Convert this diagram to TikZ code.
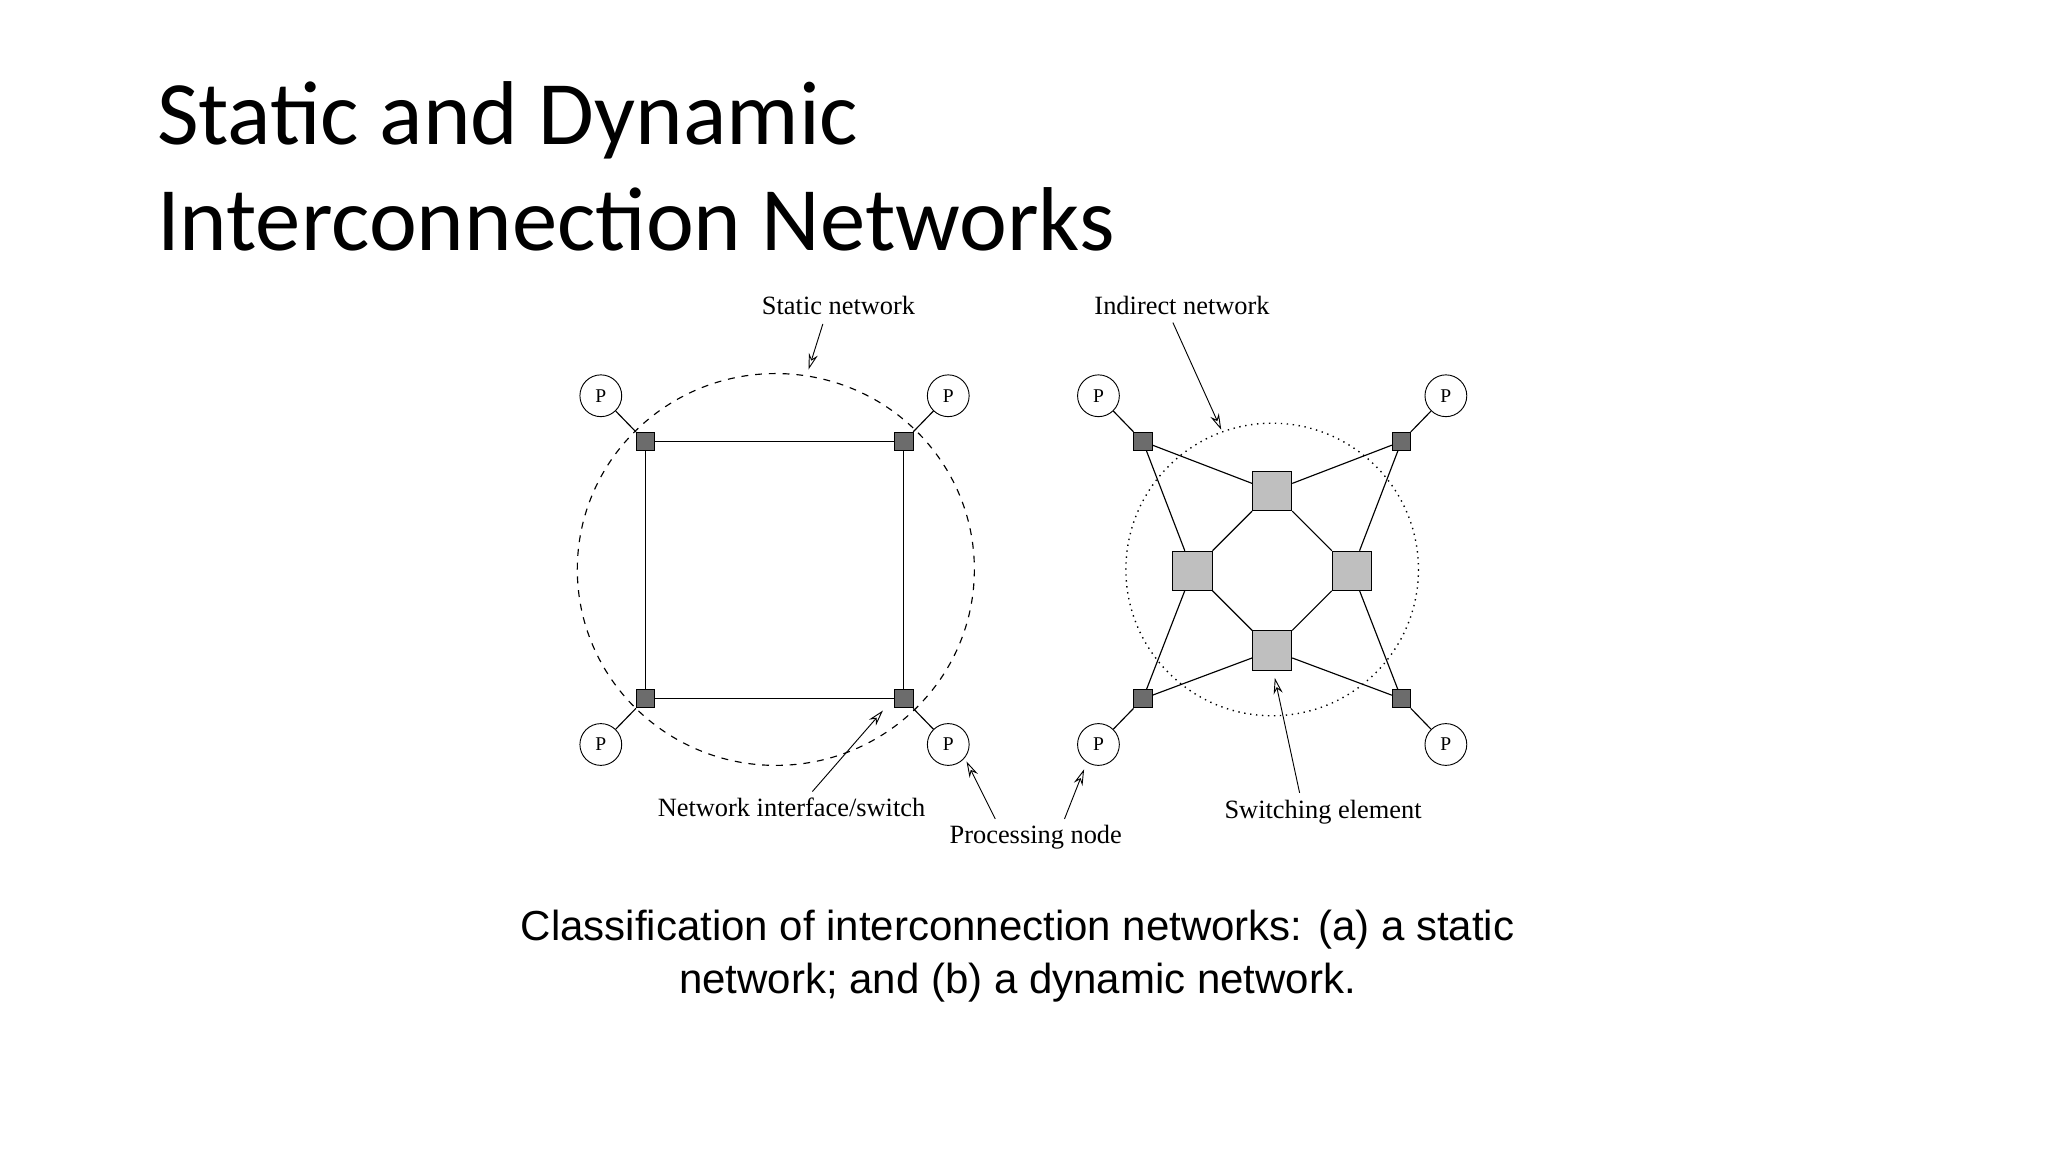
\documentclass[tikz,border=0pt]{standalone}
\usepackage{fontspec}
\setmainfont{Liberation Serif}
\newfontfamily\titlefont{Carlito}
\newfontfamily\capfont{Liberation Sans}
\usetikzlibrary{arrows.meta}
\begin{document}
\begin{tikzpicture}[x=0.02cm,y=-0.02cm,
  proc/.style={circle,draw,fill=white,minimum size=0.64cm,inner sep=0pt,font=\fontsize{8.5}{9}\selectfont},
  ni/.style={draw,fill=gray!85!black,minimum size=0.28cm,inner sep=0pt},
  sw/.style={draw,fill=gray!50,minimum size=0.6cm,inner sep=0pt},
  lbl/.style={font=\fontsize{11.5}{13}\selectfont},
  ptr/.style={-{Stealth[open,length=7pt,width=4pt]},line width=0.4pt},
  link/.style={line width=0.5pt}]
\useasboundingbox (0,0) rectangle (1568,882);
\node[anchor=west,font=\titlefont\fontsize{39.5}{46}\selectfont,align=left] (t1) at (114,92) {Static and Dynamic};
\node[anchor=west,font=\titlefont\fontsize{39.5}{46}\selectfont,align=left] (t2) at (114,168) {Interconnection Networks};
% left static network
\draw[dashed,line width=0.5pt] (594,436) ellipse (152 and 150);
\node[ni] (a1) at (494,338) {}; \node[ni] (a2) at (692,338) {};
\node[ni] (a3) at (494,535) {}; \node[ni] (a4) at (692,535) {};
\node[proc] (p1) at (460,303) {P}; \node[proc] (p2) at (726,303) {P};
\node[proc] (p3) at (460,570) {P}; \node[proc] (p4) at (726,570) {P};
\draw[link] (a1)--(a2)--(a4)--(a3)--(a1);
\draw[link] (a1)--(p1) (a2)--(p2) (a3)--(p3) (a4)--(p4);
% right dynamic network
\draw[dotted,line width=0.6pt] (974,436) circle (112);
\node[ni] (b1) at (875,338) {}; \node[ni] (b2) at (1073,338) {};
\node[ni] (b3) at (875,535) {}; \node[ni] (b4) at (1073,535) {};
\node[proc] (q1) at (841,303) {P}; \node[proc] (q2) at (1107,303) {P};
\node[proc] (q3) at (841,570) {P}; \node[proc] (q4) at (1107,570) {P};
\node[sw] (st) at (974,376) {}; \node[sw] (sl) at (913,437) {};
\node[sw] (sr) at (1035,437) {}; \node[sw] (sb) at (974,498) {};
\draw[link] (st)--(sl)--(sb)--(sr)--(st);
\draw[link] (b1)--(st) (b1)--(sl) (b2)--(st) (b2)--(sr)
  (b3)--(sb) (b3)--(sl) (b4)--(sb) (b4)--(sr);
\draw[link] (b1)--(q1) (b2)--(q2) (b3)--(q3) (b4)--(q4);
% labels
\node[lbl] (l1) at (642,234) {Static network};
\coordinate (s1) at (630,248); \coordinate (e1) at (619,283);
\draw[ptr] (s1) -- (e1);
\node[lbl] (l2) at (905,234) {Indirect network};
\coordinate (s2) at (898,247); \coordinate (e2) at (935,329);
\draw[ptr] (s2) -- (e2);
\node[lbl] (l3) at (606,618) {Network interface/switch};
\coordinate (s3) at (622,606); \coordinate (e3) at (676,544);
\draw[ptr] (s3) -- (e3);
\node[lbl] (l4) at (793,641) {Processing node};
\coordinate (s4) at (762,627); \coordinate (e4) at (740,583);
\coordinate (s5) at (815,627); \coordinate (e5) at (830,589);
\draw[ptr] (s4) -- (e4);
\draw[ptr] (s5) -- (e5);
\node[lbl] (l5) at (1013,622) {Switching element};
\coordinate (s6) at (995,607); \coordinate (e6) at (976,519);
\draw[ptr] (s6) -- (e6);
% caption
\node[font=\capfont\fontsize{18.3}{23}\selectfont,align=center] (cap) at (779,732) {Classification of interconnection networks: (a) a static\\network; and (b) a dynamic network.};
\end{tikzpicture}
\end{document}
